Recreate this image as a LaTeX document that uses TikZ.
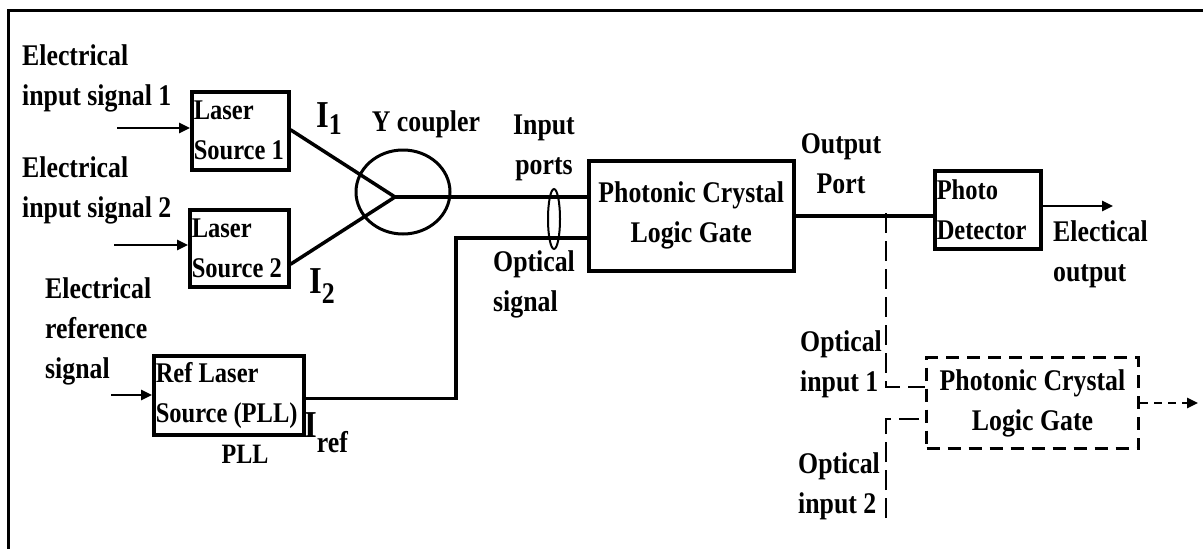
\documentclass[tikz,border=0pt]{standalone}
\usepackage{fontspec}
\setmainfont[FakeStretch=0.86]{Liberation Serif}
\usetikzlibrary{arrows.meta,shapes.geometric}
\begin{document}
\begin{tikzpicture}[x=1pt,y=-1pt,
  txt/.style={font=\bfseries\fontsize{30}{40}\selectfont, inner sep=0pt, align=left},
  blk/.style={draw, line width=3.5pt, anchor=north west, inner xsep=2pt, inner ysep=0pt,
              align=flush left, font=\bfseries\fontsize{28.5}{40}\selectfont},
  ctrblk/.style={blk, align=flush center, font=\bfseries\fontsize{30}{40}\selectfont},
  conn/.style={line width=3.5pt},
  arr/.style={line width=2.5pt, -{Triangle[length=11pt,width=10pt]}},
  dashconn/.style={line width=2.5pt, dash pattern=on 20pt off 8pt},
  Ilbl/.style={font=\bfseries\fontsize{38}{38}\selectfont, inner sep=0pt, anchor=base west}
]
\useasboundingbox (0,0) rectangle (1203,549);
% frame
\draw[line width=3pt] (8,549) -- (8,10) -- (1203,10);

% labels
\node[txt, anchor=north west] (e1) at (22,44) {Electrical\\input signal 1};
\node[txt, anchor=north west] (e2) at (22,156) {Electrical\\input signal 2};
\node[txt, anchor=north west] (e3) at (45,277) {Electrical\\reference\\signal};
\node[txt, anchor=north] (yl) at (426,110) {Y coupler};
\node[txt, anchor=north, align=center] (ipl) at (544,115) {Input\\ports};
\node[txt, anchor=north west] (osl) at (493,250) {Optical\\signal};
\node[txt, anchor=north, align=center] (opl) at (841,133) {Output\\Port};
\node[txt, anchor=north west] (eol) at (1053,220) {Electical\\output};
\node[txt, anchor=north west] (oi1) at (800,330) {Optical\\input 1};
\node[txt, anchor=north west] (oi2) at (798,452) {Optical\\input 2};
\node[font=\bfseries\fontsize{28}{30}\selectfont, inner sep=0pt, anchor=north] (pll) at (245,445) {PLL};

% boxes
\node[blk, minimum width=97pt, minimum height=78pt, text width=93pt] (ls1) at (190,90) {\mbox{Laser}\\\mbox{Source 1}};
\node[blk, minimum width=99pt, minimum height=77pt, text width=95pt] (ls2) at (188,208) {\mbox{Laser}\\\mbox{Source 2}};
\node[blk, minimum width=150pt, minimum height=79pt, text width=146pt] (ref) at (152,354) {\mbox{Ref Laser}\\\mbox{Source (PLL)}};
\node[ctrblk, minimum width=205pt, minimum height=110pt, text width=201pt] (pclg) at (587,159) {\mbox{Photonic Crystal}\\\mbox{Logic Gate}};
\node[blk, minimum width=106pt, minimum height=78pt, text width=102pt] (pd) at (933,169) {\mbox{Photo}\\\mbox{Detector}};
\node[ctrblk, line width=3pt, dash pattern=on 13pt off 8pt, minimum width=212pt, minimum height=91pt, text width=208pt] (pclg2) at (925,356) {\mbox{Photonic Crystal}\\\mbox{Logic Gate}};

% current labels
\node[Ilbl] (i1) at (316,127) {I\raisebox{-7pt}{\fontsize{30}{30}\selectfont 1}};
\node[Ilbl] (i2) at (309,293) {I\raisebox{-10pt}{\fontsize{30}{30}\selectfont 2}};
\node[Ilbl] (iref) at (304,437) {I\raisebox{-15pt}{\fontsize{30}{30}\selectfont ref}};

% Y coupler
\node[draw, ellipse, line width=3pt, minimum width=94pt, minimum height=84pt, inner sep=0pt] (yc) at (403,192) {};
\coordinate (J) at (395,197);
% input ports ellipse
\node[draw, ellipse, line width=2pt, minimum width=12pt, minimum height=60pt, inner sep=0pt] (ip) at (554,219) {};

% electrical inputs
\coordinate (a1) at (117,128);
\coordinate (a2) at (114,245);
\coordinate (a3) at (111,395);
\draw[arr] (a1) -- (a1 -| ls1.west);
\draw[arr] (a2) -- (a2 -| ls2.west);
\draw[arr] (a3) -- (a3 -| ref.west);

% optical paths
\draw[conn] ([yshift=1pt]ls1.east) -- (J);
\draw[conn] ([yshift=-16pt]ls2.east) -- (J);
\draw[conn] (J) -- (J -| pclg.west);
\coordinate (c1) at (456,238);
\draw[conn] ([yshift=-3pt]ref.east) -| (c1) -- (c1 -| pclg.west);
\draw[conn] (pclg.east) -- (pclg.east -| pd.west);
\coordinate (eo) at (1113,206);
\draw[arr] (pd.east |- eo) -- (eo);

% dashed branch
\coordinate (tap) at (886,213);
\coordinate (in1) at (886,387);
\coordinate (in2b) at (886,518);
\coordinate (in2) at (886,419);
\draw[dashconn] (tap) -- (in1) -- (in1 -| pclg2.west);
\draw[dashconn] (in2b) -- (in2) -- (in2 -| pclg2.west);
\coordinate (o2) at (1198,403);
\draw[line width=2.5pt, dash pattern=on 8pt off 6pt, -{Triangle[length=11pt,width=10pt]}] (pclg2.east |- o2) -- (o2);
\end{tikzpicture}
\end{document}
